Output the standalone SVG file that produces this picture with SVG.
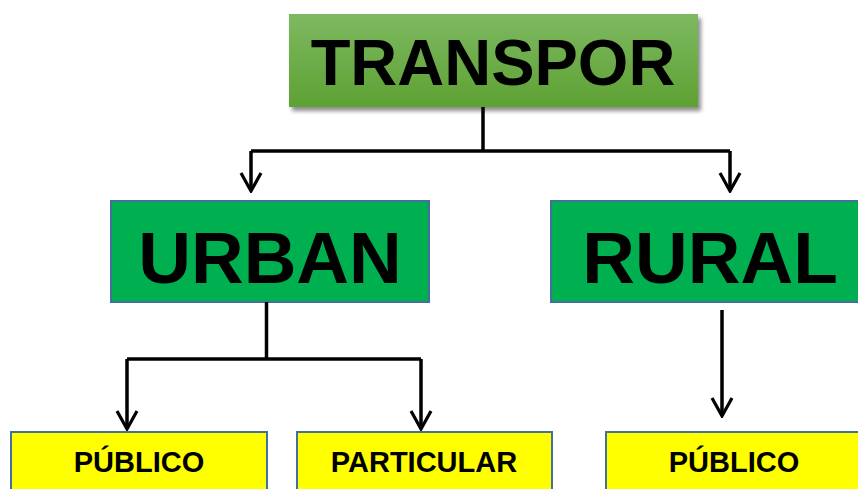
<svg xmlns="http://www.w3.org/2000/svg" width="858" height="489" viewBox="0 0 858 489">
<defs>
<linearGradient id="gTop" x1="0" y1="0" x2="0" y2="1">
<stop offset="0" stop-color="#7db961"/>
<stop offset="1" stop-color="#5ea133"/>
</linearGradient>
<filter id="shadow" x="-5%" y="-10%" width="115%" height="130%">
<feGaussianBlur in="SourceAlpha" stdDeviation="2"/>
<feOffset dx="3" dy="4" result="b"/>
<feComponentTransfer><feFuncA type="linear" slope="0.45"/></feComponentTransfer>
<feMerge><feMergeNode/><feMergeNode in="SourceGraphic"/></feMerge>
</filter>
<marker id="arrow" viewBox="0 0 22 24" refX="20" refY="12" markerWidth="22" markerHeight="24" markerUnits="userSpaceOnUse" orient="auto">
<path d="M2,2 L20,12 L2,22" fill="none" stroke="#000" stroke-width="3.2" stroke-linejoin="miter"/>
</marker>
</defs>
<style>
.big{font-family:"Liberation Sans",Arial,sans-serif;font-weight:bold;fill:#000;text-anchor:middle}
.small{font-family:"Liberation Sans",Arial,sans-serif;font-weight:bold;fill:#000;text-anchor:middle;font-size:29px}
.green{fill:#00b050;stroke:#41719c;stroke-width:2}
.yellow{fill:#ffff00;stroke:#41719c;stroke-width:2}
.conn{fill:none;stroke:#000;stroke-width:3.5}
</style>
<rect width="858" height="489" fill="#fff"/>
<g id="transpor">
<rect x="289" y="14" width="409" height="93" fill="url(#gTop)" filter="url(#shadow)"/>
<text class="big" x="493" y="85" font-size="65">TRANSPOR</text>
</g>
<g id="urban">
<rect class="green" x="111" y="201" width="318" height="101"/>
<text class="big" x="270" y="283" font-size="73">URBAN</text>
</g>
<g id="rural">
<rect class="green" x="551" y="201" width="320" height="101"/>
<text class="big" x="710" y="283" font-size="73">RURAL</text>
</g>
<g id="publico-urban">
<rect class="yellow" x="11" y="432" width="256" height="70"/>
<text class="small" x="139" y="472">PÚBLICO</text>
</g>
<g id="particular">
<rect class="yellow" x="297" y="432" width="255" height="70"/>
<text class="small" x="424" y="472">PARTICULAR</text>
</g>
<g id="publico-rural">
<rect class="yellow" x="606" y="432" width="260" height="70"/>
<text class="small" x="734" y="472">PÚBLICO</text>
</g>
<g id="connectors">
<path class="conn" d="M483,107 V151"/>
<path class="conn" d="M251,151 H730"/>
<path class="conn" d="M251,151 V191" marker-end="url(#arrow)"/>
<path class="conn" d="M730,151 V191" marker-end="url(#arrow)"/>
<path class="conn" d="M266.5,302 V359"/>
<path class="conn" d="M127,359 H421"/>
<path class="conn" d="M127,359 V429" marker-end="url(#arrow)"/>
<path class="conn" d="M421,359 V429" marker-end="url(#arrow)"/>
<path class="conn" d="M722,310 V416" marker-end="url(#arrow)"/>
</g>
</svg>
